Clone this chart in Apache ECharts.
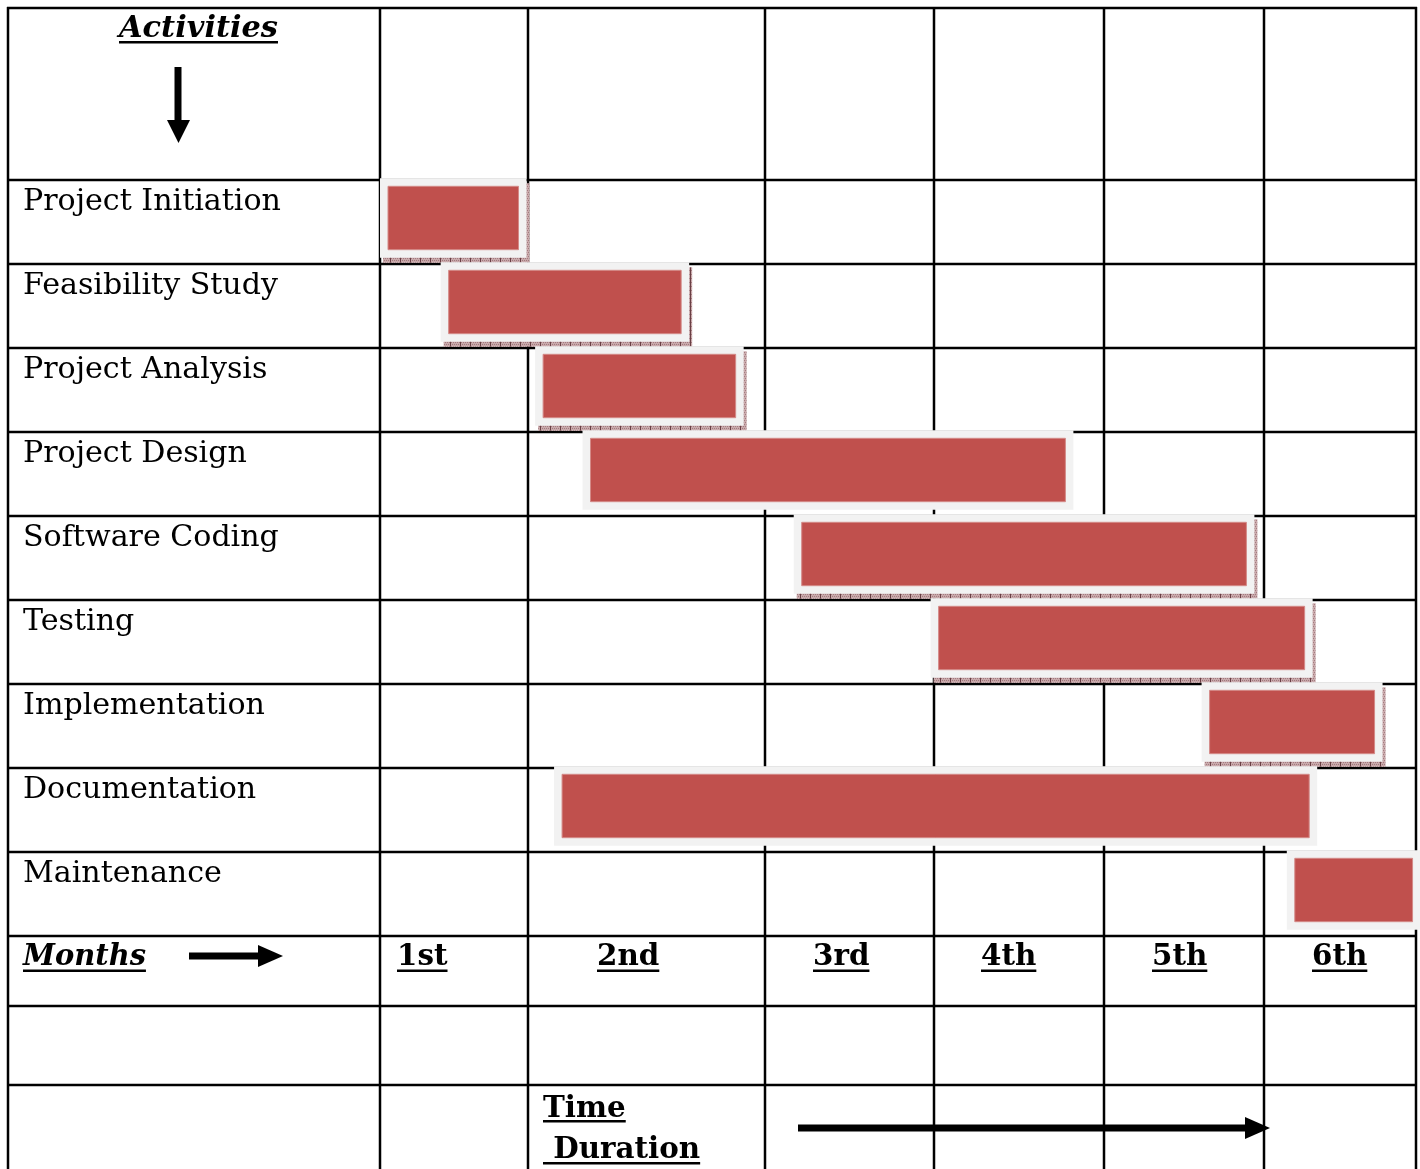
<!DOCTYPE html>
<html><head><meta charset="utf-8">
<script src="https://cdn.jsdelivr.net/npm/echarts@6/dist/echarts.min.js"></script>
<style>html,body{margin:0;padding:0;background:#fff}#c{width:1420px;height:1169px}</style>
</head><body><div id="c"></div>
<script>
// ---------- data ----------
const activities = ['Project Initiation','Feasibility Study','Project Analysis','Project Design','Software Coding','Testing','Implementation','Documentation','Maintenance'];
const startMonth = [0.00, 0.41, 1.03, 1.23, 2.17, 2.98, 4.61, 1.11, 5.15];
const endMonth   = [0.99, 1.68, 1.91, 3.82, 4.94, 5.32, 5.78, 5.35, 6.03];
const monthLabels = ['1st','2nd','3rd','4th','5th','6th'];
const rowTitle = 'Activities';
const colTitle = 'Months';
const durationTitle = ['Time', ' Duration'];

// ---------- layout / style ----------
const colWidths = [148, 237, 169, 170, 160, 152];          // relative widths of month columns
const hasShadow = [true, true, true, false, true, true, true, false, false];
const monthLabelOffset = [17, 69, 48, 47, 48, 48];
const L = {left:380, right:4, top:180, bottom:233, tableLeft:8, headerH:172, footerH:[70,79]};
const W = 1420, H = 1169;
const serif = "'DejaVu Serif', 'Liberation Serif', serif";
const colTotal = colWidths.reduce((a,b)=>a+b,0);
const gridLineW = 2.5;

const mctx = document.createElement('canvas').getContext('2d');
function fontStr(style, weight, size){ return style+' '+weight+' '+size+'px '+serif; }
function fit(text, style, weight, target){ mctx.font = fontStr(style,weight,100); return 100*target/mctx.measureText(text).width; }
function tw(text, font){ mctx.font = font; return mctx.measureText(text).width; }

const rowFontSize = fit('Project Initiation','normal','normal',258);
const biSize = fit('Months','italic','bold',123);
const actSize = fit('Activities','italic','bold',159);
const bSize = fit('Duration','normal','bold',147);

function warp(m){
  const i = Math.max(0, Math.min(Math.floor(m), colWidths.length-1));
  let acc = 0; for(let k=0;k<i;k++) acc += colWidths[k];
  return acc + (m - i)*colWidths[i];
}

// shadow hatch pattern
const pc = document.createElement('canvas'); pc.width = 10; pc.height = 4;
(function(){const g = pc.getContext('2d'); g.fillStyle='#c9a9ab'; g.fillRect(0,0,10,4);
  g.fillStyle='#a27b7f'; for(let x=0;x<10;x+=2) for(let y=0;y<4;y+=2) g.fillRect(x+(y%4?1:0),y,1,1);
  g.fillStyle='#6b3f44'; g.fillRect(0,0,1,4);})();
const shadowFill = {image: pc, repeat: 'repeat'};

function renderTable(params, api){
  const children = [];
  const band = api.size([0,1])[1];
  const top = api.coord([0,0])[1] - band/2;
  const ys = [top - L.headerH];
  for(let i=0;i<=activities.length;i++) ys.push(top + i*band);
  let yb = top + activities.length*band;
  L.footerH.forEach(h=>{ yb += h; ys.push(yb); });
  const xs = [L.tableLeft, api.coord([0,0])[0]];
  let acc = 0; colWidths.forEach(w=>{ acc += w; xs.push(api.coord([acc,0])[0]); });
  ys.forEach(y=>children.push({type:'line',shape:{x1:xs[0]-1,y1:y,x2:xs[xs.length-1]+1,y2:y},style:{stroke:'#000',lineWidth:gridLineW}}));
  xs.forEach(x=>children.push({type:'line',shape:{x1:x,y1:ys[0]-1,x2:x,y2:H},style:{stroke:'#000',lineWidth:gridLineW}}));
  return {type:'group', children};
}

function renderBar(params, api){
  const i = api.value(0);
  const p0 = api.coord([api.value(1), i]);
  const p1 = api.coord([api.value(2), i]);
  const band = api.size([0,1])[1];
  const h = band*0.945, cy = p0[1] - 4;
  const x = p0[0], w = p1[0]-p0[0], y = cy - h/2, inset = 8;
  const ch = [];
  if (hasShadow[i]) ch.push({type:'rect',shape:{x:x+3,y:y+5,width:w,height:h},style:{fill:shadowFill}});
  ch.push({type:'rect',shape:{x:x,y:y,width:w,height:h},style:{fill:'#F2F2F2'}});
  ch.push({type:'rect',shape:{x:x+inset,y:y+inset,width:w-2*inset,height:h-2*inset},style:{fill:'#C0504D',stroke:'#D48A88',lineWidth:1}});
  return {type:'group', children:ch};
}

// header / footer texts
const graphics = [];
function addText(text, x, y, style, weight, size, align, underline){
  const f = fontStr(style, weight, size);
  graphics.push({type:'text', z:10, style:{text:text, x:x, y:y, font:f, fill:'#000', align:align, verticalAlign:'middle'}});
  if (underline){
    const w = tw(text, f);
    const x0 = align==='center' ? x - w/2 : x;
    graphics.push({type:'rect', z:10, shape:{x:x0, y:underline, width:w, height:2.5}, style:{fill:'#000'}});
  }
}
const colLeft = [L.left]; colWidths.forEach((w,k)=>colLeft.push(colLeft[k]+w));
addText(rowTitle, 198.5, 29, 'italic', 'bold', actSize, 'center', 41);
addText(colTitle, 23, 957, 'italic', 'bold', biSize, 'left', 969.5);
monthLabels.forEach((t,k)=>addText(t, colLeft[k]+monthLabelOffset[k], 957, 'normal', 'bold', bSize, 'left', 969.5));
addText(durationTitle[0], colLeft[1]+15, 1109, 'normal', 'bold', bSize, 'left', 1120);
addText(durationTitle[1], colLeft[1]+15, 1150, 'normal', 'bold', bSize, 'left', 1162);
// arrows
graphics.push({type:'rect', z:10, shape:{x:174.5,y:67,width:7,height:54}, style:{fill:'#000'}});
graphics.push({type:'polygon', z:10, shape:{points:[[167,120],[190,120],[178.5,143]]}, style:{fill:'#000'}});
graphics.push({type:'rect', z:10, shape:{x:189,y:952.5,width:71,height:7}, style:{fill:'#000'}});
graphics.push({type:'polygon', z:10, shape:{points:[[258,945],[258,967],[283,956]]}, style:{fill:'#000'}});
graphics.push({type:'rect', z:10, shape:{x:798,y:1124.5,width:450,height:7}, style:{fill:'#000'}});
graphics.push({type:'polygon', z:10, shape:{points:[[1245,1117],[1245,1139],[1270,1128]]}, style:{fill:'#000'}});

const chart = echarts.init(document.getElementById('c'));
chart.setOption({
  animation:false,
  backgroundColor:'#fff',
  grid:{left:L.left, right:L.right, top:L.top, bottom:L.bottom},
  xAxis:{type:'value', min:0, max:colTotal, show:false},
  yAxis:{type:'category', inverse:true, data:activities,
    axisLine:{show:false}, axisTick:{show:false}, splitLine:{show:false},
    axisLabel:{interval:0, align:'left', verticalAlign:'bottom', lineHeight:40, margin:L.left-23, color:'#000', fontFamily:serif, fontSize:rowFontSize}},
  graphic: graphics,
  series:[
    {type:'custom', z:1, silent:true, renderItem:renderTable, data:[[0,0]], encode:{x:1,y:0}},
    {type:'custom', z:2, renderItem:renderBar,
     data: activities.map((a,i)=>[i, warp(startMonth[i]), warp(endMonth[i])]),
     encode:{y:0, x:[1,2]}}
  ]
});
</script></body></html>
